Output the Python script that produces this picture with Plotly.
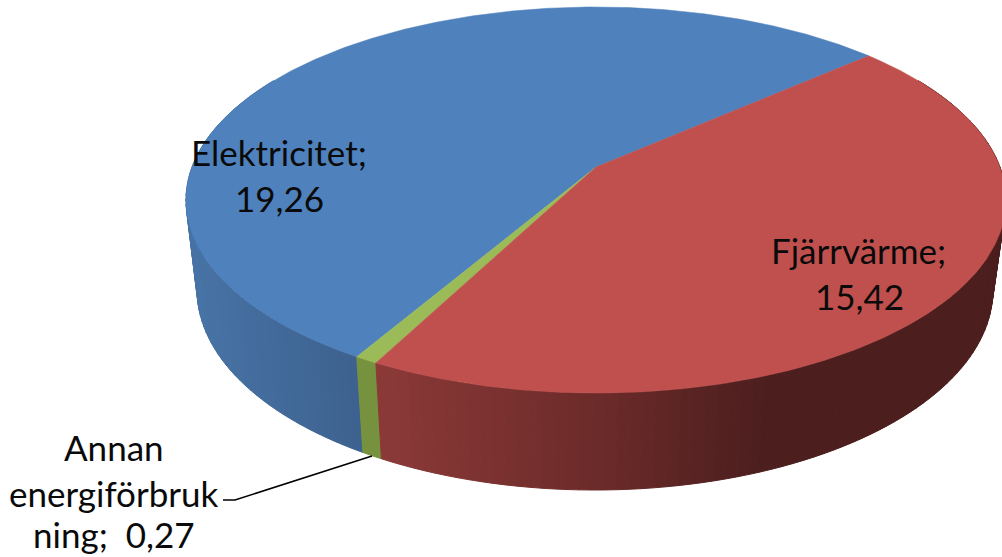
import numpy as np
import plotly.graph_objects as go

categories = ["Elektricitet", "Fjärrvärme", "Annan energiförbrukning"]
values = [19.26, 15.42, 0.27]
top_colors = ["#4f81bd", "#c0504d", "#9bbb59"]
START_DEG = 41.3  # Elektricitet starts here and runs counter-clockwise
P = 0.171


def proj(t, cx, cy, A, B):
    u, v = np.cos(t), np.sin(t)
    w = 1 + P * v
    return cx + A * u / w, cy - B * v / w


def top_rim(t):
    return proj(t, 596, 167, 404, 187.4)


def bot_rim(t):
    return proj(t, 595, 256, 392, 194)


def hex2rgb(h):
    return np.array([int(h[i:i + 2], 16) for i in (1, 3, 5)], float)


def wall_color(name_idx, x):
    if name_idx == 0:
        xs, cs = [185, 355], ["#4875a7", "#3e6290"]
    elif name_idx == 2:
        xs, cs = [355, 385], ["#76923f", "#76923f"]
    else:
        xs, cs = [380, 600, 760, 1002], ["#8c3a38", "#6b2b2a", "#4e1f1f", "#4c1e1e"]
    rgb = [np.interp(x, xs, [hex2rgb(c)[k] for c in cs]) for k in range(3)]
    return "rgb(%d,%d,%d)" % tuple(rgb)


total = sum(values)
spans = [v / total * 2 * np.pi for v in values]
start = np.radians(START_DEG)
order = [0, 2, 1]  # counter-clockwise drawing order
bounds = {}
a = start
for i in order:
    bounds[i] = (a, a + spans[i])
    a += spans[i]

fig = go.Figure()

# Side wall: thin quads along the visible rim
for i in order:
    a0, a1 = bounds[i]
    lo, hi = max(a0, np.radians(150)), min(a1, np.radians(390))
    if hi <= lo:
        continue
    n = max(2, int((hi - lo) / np.radians(1.5)))
    ts = np.linspace(lo, hi, n + 1)
    for t0, t1 in zip(ts[:-1], ts[1:]):
        x0, y0 = top_rim(t0)
        x1, y1 = top_rim(t1)
        x2, y2 = bot_rim(t1)
        x3, y3 = bot_rim(t0)
        c = wall_color(i, (x0 + x1 + x2 + x3) / 4)
        fig.add_trace(go.Scatter(x=[x0, x1, x2, x3, x0], y=[y0, y1, y2, y3, y0],
                                 mode="lines", fill="toself", fillcolor=c,
                                 line=dict(color=c, width=1), hoverinfo="skip",
                                 showlegend=False))

# Top face
ax, ay = 596, 167
for i in order:
    a0, a1 = bounds[i]
    ts = np.linspace(a0, a1, max(3, int((a1 - a0) / np.radians(0.5))))
    xs, ys = top_rim(ts)
    fig.add_trace(go.Scatter(x=np.r_[ax, xs, ax], y=np.r_[ay, ys, ay],
                             mode="lines", fill="toself", fillcolor=top_colors[i],
                             line=dict(color=top_colors[i], width=0.5),
                             name=categories[i], showlegend=False))

# Leader line
fig.add_trace(go.Scatter(x=[223, 235, 372], y=[500, 500, 456], mode="lines",
                         line=dict(color="black", width=1.5), hoverinfo="skip",
                         showlegend=False))

labels = [
    ("Elektricitet;", 279, 152), ("19,26", 279, 198),
    ("Fjärrvärme;", 858, 250), ("15,42", 859, 296),
    ("Annan", 114, 447), ("energiförbruk", 114, 493), ("ning;  0,27", 114, 534),
]
for text, x, y in labels:
    fig.add_annotation(x=x, y=y, text=text.replace("  ", "&nbsp; "), showarrow=False,
                       xanchor="center", yanchor="middle",
                       font=dict(family="Lato", size=35, color="#0a0a0a"))

fig.update_layout(
    width=1002, height=557, margin=dict(l=0, r=0, t=0, b=0),
    paper_bgcolor="white", plot_bgcolor="white", showlegend=False,
    xaxis=dict(range=[0, 1002], visible=False, fixedrange=True),
    yaxis=dict(range=[557, 0], visible=False, fixedrange=True),
)
fig.write_html("out.html", config={"displayModeBar": False},
               post_script="document.body.style.margin='0';document.body.style.overflow='hidden';")
